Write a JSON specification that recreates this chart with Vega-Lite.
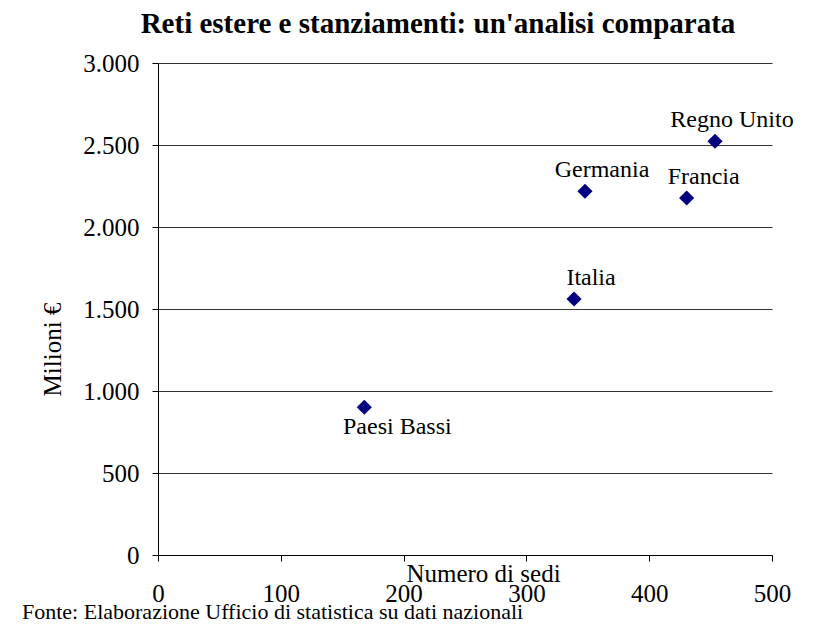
{
  "$schema": "https://vega.github.io/schema/vega-lite/v6.json",
  "padding": {"left": 22, "top": 10, "right": 10, "bottom": 0},
  "config": {
    "font": "Liberation Serif, DejaVu Serif, serif",
    "view": {"stroke": null},
    "title": {"color": "black"},
    "axis": {"labelColor": "black", "titleColor": "black", "domainColor": "black", "tickColor": "black", "labelFontSize": 25, "titleFontSize": 25, "titleFontWeight": "normal", "labelFont": "Liberation Serif, DejaVu Serif, serif", "titleFont": "Liberation Serif, DejaVu Serif, serif"}
  },
  "title": {"text": "Fonte: Elaborazione Ufficio di statistica su dati nazionali", "orient": "bottom", "anchor": "start", "fontSize": 22, "fontWeight": "normal", "font": "Liberation Serif, DejaVu Serif, serif", "baseline": "alphabetic", "offset": 13, "dx": -18},
  "vconcat": [
    {
      "width": 614,
      "height": 492,
      "title": {"text": "Reti estere e stanziamenti: un'analisi comparata", "fontSize": 29, "fontWeight": "bold", "font": "Liberation Serif, DejaVu Serif, serif", "anchor": "middle", "offset": 12, "dx": -27},
      "data": {"values": [
        {"paese": "Regno Unito", "sedi": 453.6, "milioni": 2523},
        {"paese": "Germania", "sedi": 347.7, "milioni": 2218},
        {"paese": "Francia", "sedi": 430.5, "milioni": 2177},
        {"paese": "Italia", "sedi": 338.8, "milioni": 1561},
        {"paese": "Paesi Bassi", "sedi": 168.0, "milioni": 901}
      ]},
      "encoding": {
        "x": {"field": "sedi", "type": "quantitative", "scale": {"domain": [0, 500], "nice": false},
          "axis": {"title": "Numero di sedi", "values": [0, 100, 200, 300, 400, 500], "grid": false, "tickSize": 6, "labelPadding": 40, "labelBaseline": "alphabetic", "labelFlush": false, "labelOverlap": false, "titleX": 325, "titleY": 26, "titleBaseline": "alphabetic"}},
        "y": {"field": "milioni", "type": "quantitative", "scale": {"domain": [0, 3000], "nice": false},
          "axis": {"title": "Milioni €", "values": [0, 500, 1000, 1500, 2000, 2500, 3000], "labelExpr": "replace(format(datum.value, ',d'), ',', '.')", "grid": true, "gridColor": "#333333", "gridOpacity": 1, "tickSize": 6, "labelPadding": 13, "titleX": -98, "titleY": 286, "titleBaseline": "alphabetic", "titleAngle": -90}}
      },
      "layer": [
        {"mark": {"type": "point", "shape": "diamond", "filled": true, "color": "#000080", "opacity": 1, "size": 230}},
        {"transform": [{"filter": "datum.paese != 'Paesi Bassi'"}],
         "mark": {"type": "text", "align": "center", "baseline": "alphabetic", "dx": 17, "dy": -14, "fontSize": 24, "font": "Liberation Serif, DejaVu Serif, serif", "color": "black"},
         "encoding": {"text": {"field": "paese"}}},
        {"transform": [{"filter": "datum.paese == 'Paesi Bassi'"}],
         "mark": {"type": "text", "align": "center", "baseline": "alphabetic", "dx": 33, "dy": 27, "fontSize": 24, "font": "Liberation Serif, DejaVu Serif, serif", "color": "black"},
         "encoding": {"text": {"field": "paese"}}}
      ]
    }
  ]
}
